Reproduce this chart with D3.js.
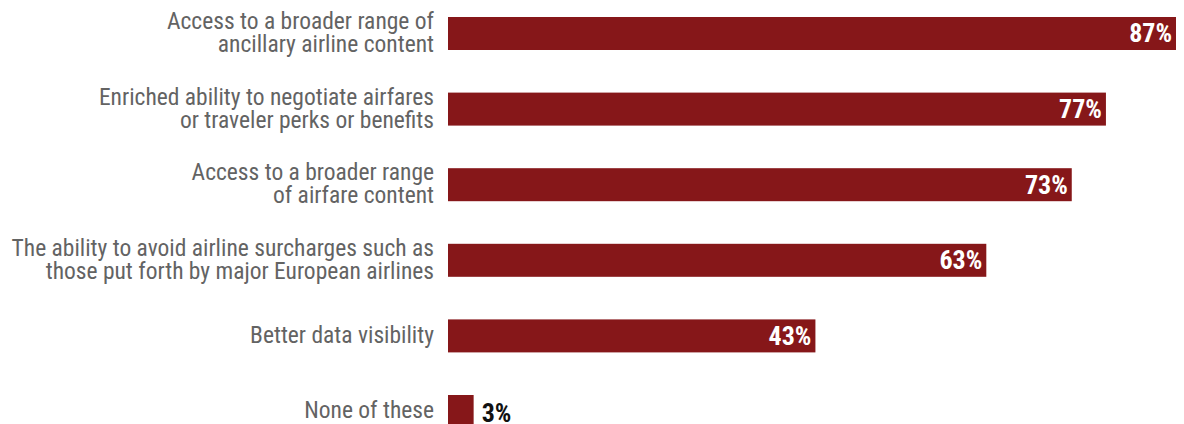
<!DOCTYPE html>
<html>
<head>
<meta charset="utf-8">
<script src="https://cdn.jsdelivr.net/npm/d3@7"></script>
<style>
  body { margin: 0; background: #fff; }
  svg { display: block; }
  text { font-family: "Roboto Condensed", Roboto, sans-serif; }
</style>
</head>
<body>
<svg id="chart" width="1184" height="424"></svg>
<script>
// answers, top to bottom
var categories = [
  "Access to a broader range of\nancillary airline content",
  "Enriched ability to negotiate airfares\nor traveler perks or benefits",
  "Access to a broader range\nof airfare content",
  "The ability to avoid airline surcharges such as\nthose put forth by major European airlines",
  "Better data visibility",
  "None of these"
];
var values = [87, 77, 73, 63, 43, 3];

var barColor = "#861719",
    labelColor = "#636363";

var left = 448,
    plotWidth = 728,
    labelX = 434,
    lineGap = 23;

var x = d3.scaleLinear()
    .domain([0, 85.2])
    .range([0, plotWidth])
    .clamp(true);   // top bar runs off the plot in the original

var y = d3.scaleBand()
    .domain(d3.range(categories.length))
    .range([17, 428])
    .paddingInner(0.5635)
    .paddingOuter(0);

var svg = d3.select("#chart");

var rows = svg.selectAll(".row")
    .data(values)
    .enter().append("g")
    .attr("class", "row")
    .attr("transform", function(d, i) { return "translate(0," + y(i) + ")"; });

rows.append("rect")
    .attr("x", left)
    .attr("y", 0)
    .attr("width", function(d) { return x(d); })
    .attr("height", y.bandwidth())
    .attr("fill", barColor);

// category labels, right aligned, multi line
var mid = y.bandwidth() / 2;
rows.append("text")
    .attr("text-anchor", "end")
    .attr("font-size", 23.5)
    .attr("fill", labelColor)
    .each(function(d, i) {
        var lines = categories[i].split("\n");
        var t = d3.select(this);
        lines.forEach(function(line, j) {
            t.append("tspan")
                .attr("x", labelX)
                .attr("y", mid + 7 - (lines.length - 1) * lineGap / 2 + j * lineGap)
                .text(line);
        });
    });

// value labels: inside the bar in white, outside in black when the bar is tiny
var inside = function(d) { return x(d) > 60; };
rows.append("text")
    .attr("x", function(d) { return inside(d) ? left + x(d) - 4 : left + x(d) + 8; })
    .attr("y", function(d) { return inside(d) ? mid + 9 : mid + 11; })
    .attr("text-anchor", function(d) { return inside(d) ? "end" : "start"; })
    .attr("font-size", 26)
    .attr("font-weight", "bold")
    .attr("fill", function(d) { return inside(d) ? "#fff" : "#111"; })
    .text(function(d) { return d + "%"; });
</script>
</body>
</html>
